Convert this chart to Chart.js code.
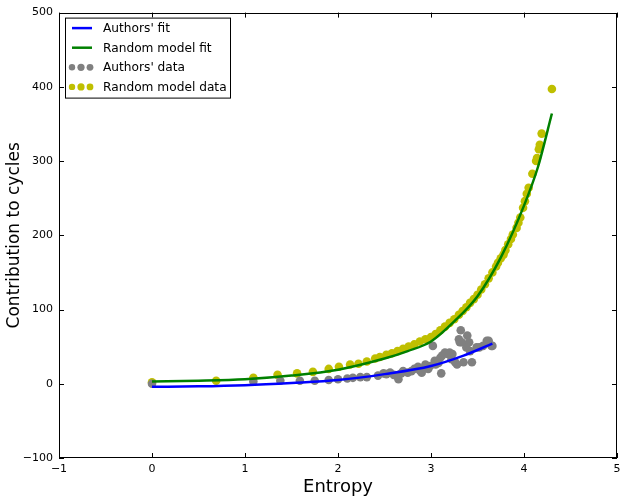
<!DOCTYPE html>
<html>
<head>
<meta charset="utf-8">
<script src="https://cdn.jsdelivr.net/npm/chart.js@4/dist/chart.umd.min.js"></script>
<style>
  html, body { margin: 0; padding: 0; background: #fff; }
  #wrap { width: 627px; height: 502px; }
</style>
</head>
<body>
<div id="wrap"><canvas id="myChart" width="627" height="502"></canvas></div>
<script>
// ---- data ----
var xTicks = [-1, 0, 1, 2, 3, 4, 5];
var yTicks = [-100, 0, 100, 200, 300, 400, 500];

var authorsFitX = [0, 0.5, 1.0, 1.5, 2.0, 2.5, 3.0, 3.35, 3.66];
var authorsFitY = [-4, -3.5, -2, 1, 5, 13, 24, 38, 54];

var randomFitX = [0, 0.5, 1.0, 1.5, 2.0, 2.5, 2.75, 3.0, 3.25, 3.5, 3.75, 4.0, 4.15, 4.3];
var randomFitY = [3, 4, 6, 11, 19, 34, 44, 57, 84, 118, 170, 240, 292, 364];

var authorsX = [0, 1.09, 1.38, 1.59, 1.75, 1.9, 2.0, 2.1, 2.16, 2.24, 2.31, 2.43, 2.49, 2.52, 2.56, 2.6, 2.65, 2.68, 2.70, 2.75,
  2.79, 2.82, 2.86, 2.88, 2.90, 2.94, 2.97, 2.99, 3.02, 3.04, 3.05, 3.08, 3.10, 3.11, 3.12, 3.15, 3.18, 3.20, 3.22, 3.23,
  3.26, 3.28, 3.30, 3.31, 3.32, 3.33, 3.35, 3.38, 3.39, 3.41, 3.42, 3.44, 3.49, 3.52, 3.56, 3.60, 3.62, 3.65, 3.66];
var authorsY = [0, 3, 4, 4, 4, 5, 6, 7, 8, 9, 9, 11, 14, 13, 15, 12, 6, 14, 17, 15,
  17, 20, 23, 18, 15, 26, 20, 24, 51, 31, 26, 28, 35, 14, 38, 42, 40, 42, 33, 40,
  29, 26, 60, 56, 72, 56, 29, 49, 65, 56, 44, 29, 49, 49, 51, 58, 58, 51, 51];

var randomX = [0, 0.69, 1.09, 1.35, 1.56, 1.73, 1.9, 2.01, 2.13, 2.22, 2.31, 2.4, 2.45, 2.52, 2.58, 2.64, 2.7, 2.76, 2.82, 2.88,
  2.94, 3.0, 3.05, 3.1, 3.15, 3.2, 3.25, 3.3, 3.34, 3.38, 3.42, 3.46, 3.5, 3.54, 3.58, 3.62, 3.66, 3.7, 3.72, 3.75,
  3.78, 3.8, 3.83, 3.86, 3.88, 3.92, 3.94, 3.96, 3.99, 4.01, 4.03, 4.05, 4.09, 4.13, 4.14, 4.16, 4.17, 4.19, 4.30];
var randomY = [2, 4, 8, 12, 14, 16, 20, 23, 26, 27, 30, 34, 36, 39, 41, 44, 47, 50, 53, 57,
  60, 63, 67, 72, 77, 82, 87, 93, 98, 103, 109, 114, 120, 127, 134, 142, 150, 158, 163, 169,
  174, 180, 188, 195, 201, 210, 217, 224, 237, 246, 256, 264, 283, 300, 304, 316, 322, 337, 397];

var labels = ["Authors' fit", "Random model fit", "Authors' data", "Random model data"];

function pts(xs, ys) {
    var out = [];
    for (var i = 0; i < xs.length; i++) out.push({x: xs[i], y: ys[i]});
    return out;
}
function minus(v) { return String(v).replace('-', '\u2212'); }

var FONT = "'DejaVu Sans', sans-serif";
Chart.defaults.font.family = FONT;
Chart.defaults.color = '#000';

// box + inward ticks on all four sides, like the classic matplotlib frame
var framePlugin = {
    id: 'frame',
    afterDraw: function(chart) {
        var c = chart.ctx, a = chart.chartArea;
        var xs = chart.scales.x, ys = chart.scales.y;
        c.save();
        c.strokeStyle = '#000';
        c.lineWidth = 1;
        c.beginPath();
        xTicks.forEach(function(v) {
            var px = Math.round(xs.getPixelForValue(v)) + 0.5;
            c.moveTo(px, a.bottom); c.lineTo(px, a.bottom - 5);
            c.moveTo(px, a.top); c.lineTo(px, a.top + 5);
        });
        yTicks.forEach(function(v) {
            var py = Math.round(ys.getPixelForValue(v)) + 0.5;
            c.moveTo(a.left, py); c.lineTo(a.left + 5, py);
            c.moveTo(a.right, py); c.lineTo(a.right - 5, py);
        });
        c.stroke();
        c.strokeRect(Math.round(a.left) + 0.5, Math.round(a.top) + 0.5,
                     Math.round(a.right - a.left) - 1, Math.round(a.bottom - a.top) - 1);

        // legend
        var lx = a.left + 6, ly = a.top + 5, w = 165, h = 80;
        c.fillStyle = '#fff';
        c.fillRect(lx, ly, w, h);
        c.strokeRect(lx + 0.5, ly + 0.5, w, h);
        c.font = '12.2px ' + FONT;
        c.textBaseline = 'middle';
        var ds = chart.data.datasets;
        for (var i = 0; i < 4; i++) {
            var ry = ly + 10.5 + i * 19.6;
            if (i < 2) {
                c.strokeStyle = ds[i].borderColor;
                c.lineWidth = 2.5;
                c.beginPath();
                c.moveTo(lx + 7, ry); c.lineTo(lx + 27, ry);
                c.stroke();
            } else {
                c.fillStyle = ds[i].backgroundColor;
                [[7, 3.2], [16, 3.6], [25, 3.4]].forEach(function(d) {
                    c.beginPath();
                    c.arc(lx + d[0], ry, d[1], 0, Math.PI * 2);
                    c.fill();
                });
            }
            c.fillStyle = '#000';
            c.fillText(labels[i], lx + 38, ry + 1);
        }
        c.restore();
    }
};

var ctx = document.getElementById('myChart');
var myChart = new Chart(ctx, {
    type: 'scatter',
    data: {
        datasets: [
            { label: labels[0], data: pts(authorsFitX, authorsFitY), showLine: true, borderColor: '#0000ff',
              backgroundColor: '#0000ff', borderWidth: 2.5, pointRadius: 0, cubicInterpolationMode: 'monotone' },
            { label: labels[1], data: pts(randomFitX, randomFitY), showLine: true, borderColor: '#008000',
              backgroundColor: '#008000', borderWidth: 2.5, pointRadius: 0, cubicInterpolationMode: 'monotone' },
            { label: labels[2], data: pts(authorsX, authorsY), backgroundColor: '#808080',
              borderWidth: 0, pointRadius: 4.3 },
            { label: labels[3], data: pts(randomX, randomY), backgroundColor: '#bfbf00',
              borderWidth: 0, pointRadius: 4.3 }
        ]
    },
    options: {
        responsive: false,
        animation: false,
        events: [],
        layout: { padding: { top: 12, right: 10, left: 0, bottom: 0 } },
        plugins: { legend: { display: false }, tooltip: { enabled: false } },
        scales: {
            x: {
                type: 'linear', min: xTicks[0], max: xTicks[xTicks.length - 1],
                afterFit: function(s) { s.height = 44; },
                afterBuildTicks: function(s) { s.ticks = xTicks.map(function(v) { return {value: v}; }); },
                grid: { display: false, drawTicks: false },
                border: { display: false },
                ticks: { padding: 5, font: { size: 11 }, color: '#000', maxRotation: 0, callback: minus },
                title: { display: true, text: 'Entropy', font: { size: 18 }, color: '#000', padding: { top: 0, bottom: 4 } }
            },
            y: {
                type: 'linear', min: yTicks[0], max: yTicks[yTicks.length - 1],
                afterFit: function(s) { s.width = 59; },
                afterBuildTicks: function(s) { s.ticks = yTicks.map(function(v) { return {value: v}; }); },
                grid: { display: false, drawTicks: false },
                border: { display: false },
                ticks: { padding: 6, font: { size: 11 }, color: '#000', callback: minus },
                title: { display: true, text: 'Contribution to cycles', font: { size: 17 }, color: '#000', padding: { top: 4, bottom: 0 } }
            }
        }
    },
    plugins: [framePlugin]
});
</script>
</body>
</html>
